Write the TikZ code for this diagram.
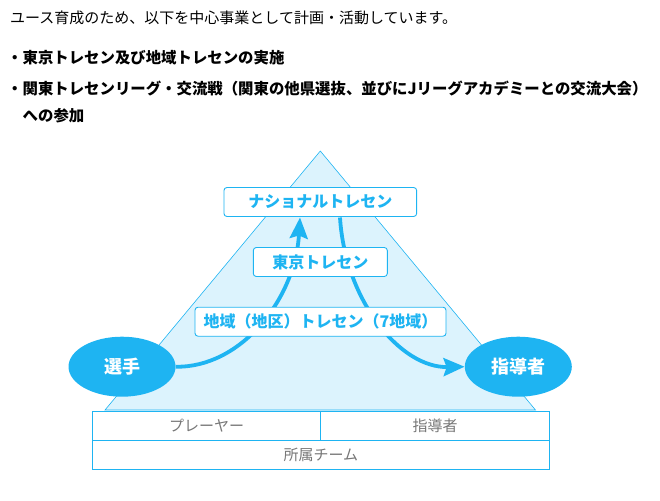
\documentclass[tikz,border=0pt]{standalone}
\usepackage{fontspec}
\setmainfont{Noto Sans CJK JP}
\usepackage{tikz}
\usetikzlibrary{arrows.meta,shapes.geometric,positioning}

\definecolor{tresenblue}{HTML}{1EB4F2}
\definecolor{tresenpale}{HTML}{DCF3FD}
\definecolor{tresengray}{HTML}{777777}

\tikzset{
  levelbox/.style={draw=tresenblue, line width=0.9pt, fill=white, rounded corners=3pt,
    minimum height=29pt, inner sep=0pt, text=tresenblue, font=\bfseries\fontsize{16}{16}\selectfont},
  personnode/.style={ellipse, fill=tresenblue, minimum width=107pt, minimum height=60pt,
    inner sep=0pt, text=white, font=\bfseries\fontsize{18}{18}\selectfont},
  tablecell/.style={draw=tresenblue, line width=1pt, fill=white, minimum height=29pt,
    inner sep=0pt, text=tresengray, font=\fontsize{15}{15}\selectfont},
  flow/.style={tresenblue, line width=3.8pt, -{Stealth[length=21pt,width=18pt,inset=3pt]}},
  intro/.style={anchor=west, inner sep=0pt, font=\fontsize{15}{15}\selectfont},
  bullet/.style={anchor=west, inner sep=0pt, font=\bfseries\fontsize{15.4}{15.4}\selectfont}
}

\begin{document}
\begin{tikzpicture}[x=1pt, y=-1pt]
\useasboundingbox (0,0) rectangle (660,500);

% Intro text
\node[intro] (lead) at (10,18) {ユース育成のため、以下を中心事業として計画・活動しています。};
\node[bullet] (item1) at (7,58) {・東京トレセン及び地域トレセンの実施};
\node[bullet] (item2) at (7,89) {・関東トレセンリーグ・交流戦（関東の他県選抜、並びにJリーグアカデミーとの交流大会）};
\node[bullet] (item3) at (22.5,116) {への参加};

% Pyramid
\draw[tresenblue, line width=0.6pt, fill=tresenpale] (320.3,151) -- (535.5,410) -- (105,410) -- cycle;

% Levels and persons
\node[personnode] (player) at (122,366.7) {選手};
\node[personnode] (coach) at (518.3,366.7) {指導者};

\draw[flow] (player.east) .. controls (240,368) and (295,300) .. (300,217.5);
\draw[flow] (340,217.5) .. controls (345,300) and (400,368) .. (coach.west);

\node[levelbox, minimum width=192.7pt] (national) at (320.3,202) {ナショナルトレセン};
\node[levelbox, minimum width=134pt] (tokyo) at (320.3,262) {東京トレセン};
\node[levelbox, minimum width=251pt] (region) at (320.5,321.7) {地域（地区）トレセン（7地域）};

% Club table
\node[tablecell, minimum width=228.4pt] (players) at (206.5,425.5) {プレーヤー};
\node[tablecell, minimum width=228.6pt] (coaches) at (435,425.5) {指導者};
\node[tablecell, minimum width=457pt] (team) at (320.8,454.8) {所属チーム};

\end{tikzpicture}
\end{document}
